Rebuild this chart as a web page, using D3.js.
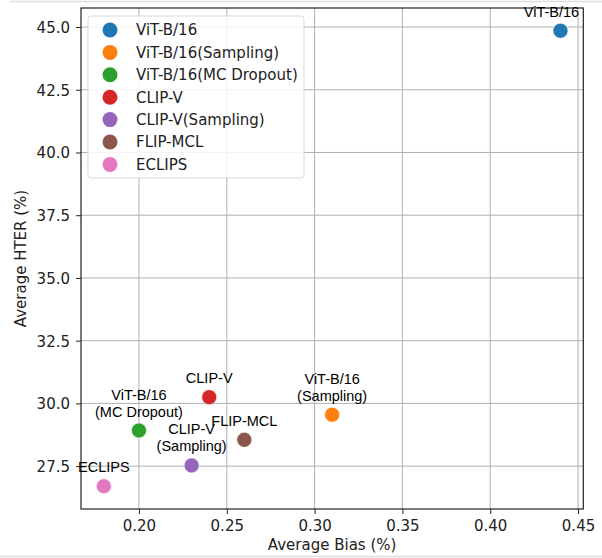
<!DOCTYPE html>
<html>
<head>
<meta charset="utf-8">
<script src="https://cdn.jsdelivr.net/npm/d3@7"></script>
<style>
	body { margin:0; background:#fff; }
	svg { display:block; }
	.tick text { font-family:'DejaVu Sans',sans-serif; font-size:15px; fill:#222; }
	.lbl { font-family:'DejaVu Sans',sans-serif; font-size:15px; fill:#222; }
	.note { font-family:'Liberation Sans',Arial,sans-serif; font-size:14.5px; fill:#000; }
</style>
</head>
<body>
<div id="chart"></div>
<script>
var names = ['ViT-B/16','ViT-B/16(Sampling)','ViT-B/16(MC Dropout)','CLIP-V','CLIP-V(Sampling)','FLIP-MCL','ECLIPS'];
var bias = [0.44, 0.31, 0.20, 0.24, 0.23, 0.26, 0.18];
var hter = [44.85, 29.55, 28.92, 30.25, 27.53, 28.55, 26.7];
var colors = ['#1f77b4','#ff7f0e','#2ca02c','#d62728','#9467bd','#8c564b','#e377c2'];
var notes = [['ViT-B/16'],['ViT-B/16','(Sampling)'],['ViT-B/16','(MC Dropout)'],['CLIP-V'],['CLIP-V','(Sampling)'],['FLIP-MCL'],['ECLIPS']];
var xTicks = [0.20, 0.25, 0.30, 0.35, 0.40, 0.45];
var yTicks = [27.5, 30.0, 32.5, 35.0, 37.5, 40.0, 42.5, 45.0];

var W = 602, H = 558,
	L = 81, R = 583.3, T = 8, B = 509;

var svg = d3.select('#chart').append('svg').attr('width',W).attr('height',H);

// frame lines of the screenshot
svg.append('line').attr('x1',10).attr('x2',W).attr('y1',1.5).attr('y2',1.5).attr('stroke','#dedede').attr('stroke-width',1.5);
svg.append('line').attr('x1',0).attr('x2',W).attr('y1',556.5).attr('y2',556.5).attr('stroke','#dedede').attr('stroke-width',1.5);

function pad(ext){
	var m = (ext[1]-ext[0])*0.05;
	return [ext[0]-m, ext[1]+m];
}
var x = d3.scaleLinear().domain(pad(d3.extent(bias))).range([L,R]);
var y = d3.scaleLinear().domain(pad(d3.extent(hter))).range([B,T]);

// grid
var grid = svg.append('g').attr('class','grid');
grid.selectAll('.gx').data(xTicks).enter().append('line')
	.attr('x1',function(d){ return x(d); }).attr('x2',function(d){ return x(d); })
	.attr('y1',T).attr('y2',B)
	.attr('stroke','#b0b0b0').attr('stroke-width',1);
grid.selectAll('.gy').data(yTicks).enter().append('line')
	.attr('y1',function(d){ return y(d); }).attr('y2',function(d){ return y(d); })
	.attr('x1',L).attr('x2',R)
	.attr('stroke','#b0b0b0').attr('stroke-width',1);

// axes
var xAxis = d3.axisBottom(x).tickValues(xTicks).tickFormat(d3.format('.2f')).tickSize(5).tickPadding(6);
var yAxis = d3.axisLeft(y).tickValues(yTicks).tickFormat(d3.format('.1f')).tickSize(5).tickPadding(6);
var gx = svg.append('g').attr('transform','translate(0,'+B+')').call(xAxis);
var gy = svg.append('g').attr('transform','translate('+L+',0)').call(yAxis);
gx.select('.domain').remove();
gy.select('.domain').remove();
gx.selectAll('.tick line').attr('stroke','#222');
gy.selectAll('.tick line').attr('stroke','#222');
gy.selectAll('.tick text').attr('dy','0.36em');

svg.append('rect').attr('x',L).attr('y',T).attr('width',R-L).attr('height',B-T)
	.attr('fill','none').attr('stroke','#222').attr('stroke-width',1.2);

svg.append('text').attr('class','lbl').attr('x',(L+R)/2).attr('y',550)
	.attr('text-anchor','middle').text('Average Bias (%)');
svg.append('text').attr('class','lbl')
	.attr('transform','translate(26,'+((T+B)/2)+') rotate(-90)')
	.attr('text-anchor','middle').text('Average HTER (%)');

// points
var pts = svg.append('g').attr('id','points');
pts.selectAll('circle').data(names).enter().append('circle')
	.attr('cx',function(d,i){ return x(bias[i]); })
	.attr('cy',function(d,i){ return y(hter[i]); })
	.attr('r',7.5)
	.attr('fill',function(d,i){ return colors[i]; })
	.attr('stroke','#fff').attr('stroke-width',0.6);

// annotations
var ann = svg.append('g').attr('id','notes');
notes.forEach(function(lines,i){
	var cx = x(bias[i]) + (i==0 ? -9 : 0),
		base = y(hter[i]) - 14,
		n = lines.length;
	lines.forEach(function(s,j){
		ann.append('text').attr('class','note')
			.attr('x',cx)
			.attr('y',base - (n-1-j)*17)
			.attr('text-anchor','middle')
			.text(s);
	});
});

// legend
var lg = svg.append('g').attr('id','legend').attr('transform','translate(88,16)');
lg.append('rect').attr('width',216).attr('height',162).attr('rx',3)
	.attr('fill','#fff').attr('fill-opacity',0.85)
	.attr('stroke','#d9d9d9').attr('stroke-width',1);
var rows = lg.selectAll('.row').data(names).enter().append('g')
	.attr('transform',function(d,i){ return 'translate(0,'+(14+i*22.4)+')'; });
rows.append('circle').attr('cx',22).attr('cy',0).attr('r',7.5)
	.attr('fill',function(d,i){ return colors[i]; });
rows.append('text').attr('class','lbl').attr('x',48).attr('y',0).attr('dy','0.36em')
	.text(function(d){ return d; });
</script>
</body>
</html>
